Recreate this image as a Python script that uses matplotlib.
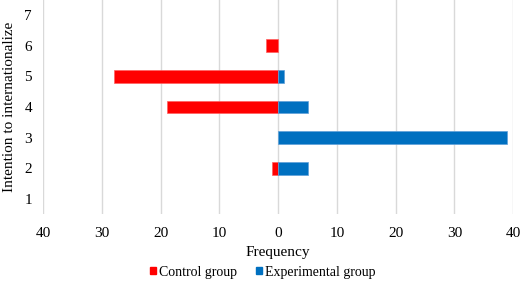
import matplotlib
matplotlib.use("Agg")
import matplotlib.pyplot as plt
from matplotlib.ticker import FixedLocator, FuncFormatter
from matplotlib.patches import Patch

categories = [1, 2, 3, 4, 5, 6, 7]
control = [0, 1, 0, 19, 28, 2, 0]
experimental = [0, 5, 39, 5, 1, 0, 0]
xticks = [-40, -30, -20, -10, 0, 10, 20, 30, 40]

plt.rcParams['font.family'] = ['Liberation Serif', 'DejaVu Serif']

fig = plt.figure(figsize=(5.2, 2.81), dpi=100)
ax = fig.add_axes([0.083, 0.238, 0.904, 0.762])

red = '#FF0000'
blue = '#0070C0'
h = 0.42
for c, v in zip(categories, control):
    if v:
        ax.barh(c, -v, height=h, color=red, edgecolor='#FF6060', linewidth=0.5, zorder=3)
for c, v in zip(categories, experimental):
    if v:
        ax.barh(c, v, height=h, color=blue, edgecolor='#5FA0D8', linewidth=0.5, zorder=3)

ax.set_xlim(-40, 40)
ax.set_ylim(0.5, 7.5)
ax.xaxis.set_major_locator(FixedLocator(xticks))
ax.xaxis.set_major_formatter(FuncFormatter(lambda v, p: f"{abs(int(v))}"))
ax.set_yticks(categories)
ax.grid(axis='x', color='#D9D9D9', linewidth=1.0, zorder=0)
for s in ax.spines.values():
    s.set_visible(False)
ax.tick_params(length=0, labelsize=11)
ax.tick_params(axis='x', pad=9.5)
ax.tick_params(axis='y', pad=8)
ax.set_xlabel('Frequency', fontsize=11, labelpad=4)
ax.set_ylabel('Intention to internationalize', fontsize=11, labelpad=6)

handles = [Patch(color=red), Patch(color=blue)]
fig.legend(handles, ['Control group', 'Experimental group'], loc='center',
           bbox_to_anchor=(0.505, 0.032), ncol=2, frameon=False, fontsize=10,
           handlelength=0.45, handleheight=0.45, handletextpad=0.2, columnspacing=1.4,
           borderpad=0, borderaxespad=0)

fig.savefig('out.png', dpi=100)
